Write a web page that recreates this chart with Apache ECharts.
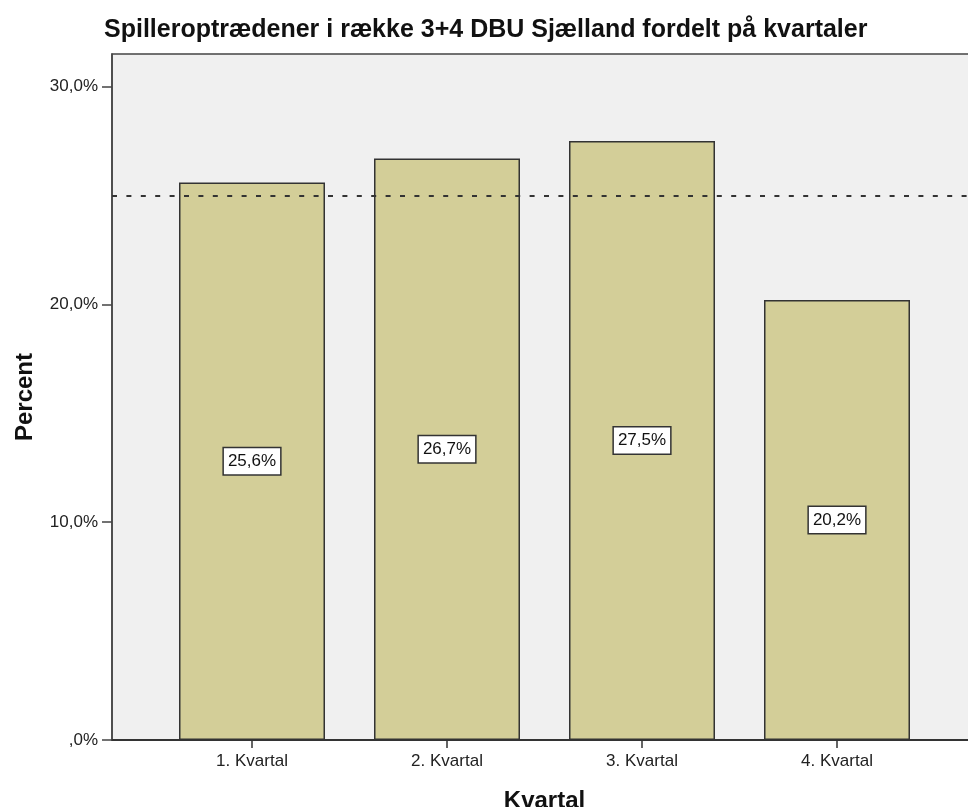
<!DOCTYPE html>
<html>
<head>
<meta charset="utf-8">
<script src="https://cdn.jsdelivr.net/npm/echarts@6/dist/echarts.min.js"></script>
<style>
  html, body { margin: 0; padding: 0; background: #fff; }
  #container { width: 968px; height: 807px; }
</style>
</head>
<body>
<div id="container"></div>
<script>
var dom = document.getElementById("container");
var myChart = echarts.init(dom);

// data
var categories = ['1. Kvartal', '2. Kvartal', '3. Kvartal', '4. Kvartal'];
var percentValues = [25.6, 26.7, 27.5, 20.2];
var referenceLine = 25;
var yTicks = [0, 10, 20, 30];

var fmtPct = function (v) {
    if (v === 0) return ',0%';
    return v.toFixed(1).replace('.', ',') + '%';
};

var font = 'Liberation Sans, Arial, sans-serif';

option = {
    backgroundColor: '#fff',
    title: {
        text: 'Spilleroptrædener i række 3+4 DBU Sjælland fordelt på kvartaler',
        left: 99,
        top: 13,
        textStyle: {
            fontFamily: font,
            fontSize: 25,
            fontWeight: 'bold',
            color: '#111'
        }
    },
    grid: [{
            // frame + y axis
            left: 112,
            right: -8,
            top: 54,
            bottom: 67,
            show: true,
            backgroundColor: '#f0f0f0',
            borderColor: '#444',
            borderWidth: 1.5,
            outerBoundsMode: 'none'
        },
        {
            // bars
            left: 154.5,
            width: 780,
            top: 54,
            bottom: 67,
            outerBoundsMode: 'none'
        }
    ],
    xAxis: [{
            gridIndex: 0,
            type: 'value',
            min: 0,
            max: 1,
            axisLine: { show: true, lineStyle: { color: '#333', width: 2 } },
            axisTick: { show: false },
            axisLabel: { show: false },
            splitLine: { show: false }
        },
        {
            gridIndex: 1,
            type: 'category',
            data: categories,
            axisLine: { show: false },
            axisTick: {
                show: true,
                alignWithLabel: true,
                length: 8,
                lineStyle: { color: '#333', width: 1.5 }
            },
            axisLabel: {
                color: '#222',
                fontFamily: font,
                fontSize: 17,
                margin: 13
            },
            name: 'Kvartal',
            nameLocation: 'middle',
            nameGap: 49,
            nameTextStyle: {
                fontFamily: font,
                fontSize: 24,
                fontWeight: 'bold',
                color: '#111'
            }
        }
    ],
    yAxis: [{
            gridIndex: 0,
            type: 'value',
            min: 0,
            max: 31.5,
            interval: 10,
            axisLine: { show: true, lineStyle: { color: '#444', width: 1.5 } },
            axisTick: {
                show: true,
                length: 10,
                customValues: yTicks,
                lineStyle: { color: '#444', width: 1.5 }
            },
            axisLabel: {
                color: '#222',
                fontFamily: font,
                fontSize: 17,
                margin: 14,
                formatter: fmtPct,
                customValues: yTicks
            },
            splitLine: { show: false },
            name: 'Percent',
            nameLocation: 'middle',
            nameGap: 75,
            nameTextStyle: {
                fontFamily: font,
                fontSize: 24,
                fontWeight: 'bold',
                color: '#111'
            }
        },
        {
            gridIndex: 1,
            type: 'value',
            min: 0,
            max: 31.5,
            show: false
        }
    ],
    series: [{
            type: 'bar',
            xAxisIndex: 1,
            yAxisIndex: 1,
            data: percentValues,
            barWidth: 146,
            itemStyle: {
                color: '#d3ce98',
                borderColor: '#333',
                borderWidth: 1.5
            },
            label: {
                show: true,
                position: 'inside',
                formatter: function (p) { return fmtPct(p.value); },
                backgroundColor: '#fff',
                borderColor: '#333',
                borderWidth: 1.5,
                padding: [5, 4, 4, 4],
                color: '#111',
                fontFamily: font,
                fontSize: 17
            },
            silent: true
        },
        {
            type: 'line',
            xAxisIndex: 0,
            yAxisIndex: 0,
            data: [],
            symbol: 'none',
            silent: true,
            markLine: {
                silent: true,
                symbol: 'none',
                label: { show: false },
                lineStyle: { color: '#333', type: [5, 9.4], width: 2 },
                data: [{ yAxis: referenceLine }]
            }
        }
    ]
};

myChart.setOption(option);
</script>
</body>
</html>
